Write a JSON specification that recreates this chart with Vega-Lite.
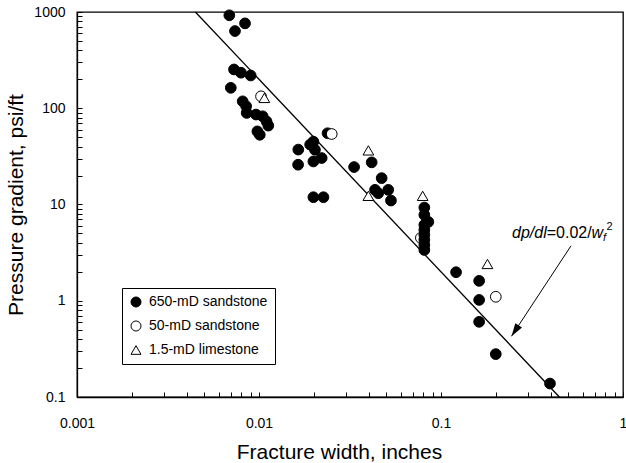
{
  "$schema": "https://vega.github.io/schema/vega-lite/v6.json",
  "width": 546,
  "height": 385,
  "autosize": {"type": "none"},
  "padding": {"left": 77, "top": 12, "right": 3, "bottom": 66},
  "background": "white",
  "config": {
    "font": "Liberation Sans",
    "view": {"stroke": "black", "strokeWidth": 1.3},
    "axis": {
      "domainColor": "black", "domainWidth": 1.3, "tickColor": "black", "tickWidth": 1,
      "labelColor": "black", "titleColor": "black", "grid": false,
      "labelFont": "Liberation Sans", "titleFont": "Liberation Sans",
      "titleFontWeight": "normal", "labelFontSize": 14, "titleFontSize": 21
    },
    "legend": {
      "orient": "none", "legendX": 45, "legendY": 276,
      "strokeColor": "black", "fillColor": "white", "padding": 7,
      "rowPadding": 10, "labelOffset": 6, "symbolSize": 100,
      "symbolStrokeWidth": 1,
      "labelFont": "Liberation Sans", "labelFontSize": 14, "labelColor": "black"
    }
  },
  "datasets": {
    "fit": [{"x": 0.00447, "y": 1000}, {"x": 0.447, "y": 0.1}],
    "pts": [
      {"x": 0.00687, "y": 924, "type": "650-mD sandstone"},
      {"x": 0.00838, "y": 762, "type": "650-mD sandstone"},
      {"x": 0.00738, "y": 634, "type": "650-mD sandstone"},
      {"x": 0.00729, "y": 253, "type": "650-mD sandstone"},
      {"x": 0.00796, "y": 234, "type": "650-mD sandstone"},
      {"x": 0.0090, "y": 219, "type": "650-mD sandstone"},
      {"x": 0.0070, "y": 163, "type": "650-mD sandstone"},
      {"x": 0.00813, "y": 118, "type": "650-mD sandstone"},
      {"x": 0.0085, "y": 105, "type": "650-mD sandstone"},
      {"x": 0.00856, "y": 89.5, "type": "650-mD sandstone"},
      {"x": 0.00963, "y": 86, "type": "650-mD sandstone"},
      {"x": 0.01047, "y": 82.6, "type": "650-mD sandstone"},
      {"x": 0.0110, "y": 73, "type": "650-mD sandstone"},
      {"x": 0.01125, "y": 66, "type": "650-mD sandstone"},
      {"x": 0.0098, "y": 57.5, "type": "650-mD sandstone"},
      {"x": 0.0101, "y": 53, "type": "650-mD sandstone"},
      {"x": 0.0238, "y": 55, "type": "650-mD sandstone"},
      {"x": 0.0199, "y": 45, "type": "650-mD sandstone"},
      {"x": 0.0191, "y": 41.9, "type": "650-mD sandstone"},
      {"x": 0.01644, "y": 37.2, "type": "650-mD sandstone"},
      {"x": 0.0203, "y": 37, "type": "650-mD sandstone"},
      {"x": 0.0221, "y": 30.4, "type": "650-mD sandstone"},
      {"x": 0.0199, "y": 28, "type": "650-mD sandstone"},
      {"x": 0.0164, "y": 25.9, "type": "650-mD sandstone"},
      {"x": 0.0199, "y": 11.9, "type": "650-mD sandstone"},
      {"x": 0.0226, "y": 11.9, "type": "650-mD sandstone"},
      {"x": 0.0416, "y": 27.4, "type": "650-mD sandstone"},
      {"x": 0.0333, "y": 24.5, "type": "650-mD sandstone"},
      {"x": 0.0472, "y": 18.8, "type": "650-mD sandstone"},
      {"x": 0.0434, "y": 14.2, "type": "650-mD sandstone"},
      {"x": 0.0452, "y": 13.1, "type": "650-mD sandstone"},
      {"x": 0.0513, "y": 14.2, "type": "650-mD sandstone"},
      {"x": 0.0531, "y": 11, "type": "650-mD sandstone"},
      {"x": 0.0775, "y": 4.5, "type": "50-mD sandstone"},
      {"x": 0.081, "y": 9.3, "type": "650-mD sandstone"},
      {"x": 0.081, "y": 7.8, "type": "650-mD sandstone"},
      {"x": 0.0852, "y": 6.6, "type": "650-mD sandstone"},
      {"x": 0.081, "y": 6.15, "type": "650-mD sandstone"},
      {"x": 0.081, "y": 5.45, "type": "650-mD sandstone"},
      {"x": 0.081, "y": 4.84, "type": "650-mD sandstone"},
      {"x": 0.081, "y": 4.3, "type": "650-mD sandstone"},
      {"x": 0.081, "y": 3.8, "type": "650-mD sandstone"},
      {"x": 0.081, "y": 3.37, "type": "650-mD sandstone"},
      {"x": 0.121, "y": 1.98, "type": "650-mD sandstone"},
      {"x": 0.162, "y": 1.61, "type": "650-mD sandstone"},
      {"x": 0.162, "y": 1.02, "type": "650-mD sandstone"},
      {"x": 0.162, "y": 0.604, "type": "650-mD sandstone"},
      {"x": 0.2, "y": 0.279, "type": "650-mD sandstone"},
      {"x": 0.397, "y": 0.138, "type": "650-mD sandstone"},
      {"x": 0.01026, "y": 133, "type": "50-mD sandstone"},
      {"x": 0.0251, "y": 54, "type": "50-mD sandstone"},
      {"x": 0.2, "y": 1.1, "type": "50-mD sandstone"},
      {"x": 0.0107, "y": 128, "type": "1.5-mD limestone"},
      {"x": 0.0399, "y": 36.5, "type": "1.5-mD limestone"},
      {"x": 0.0399, "y": 12.3, "type": "1.5-mD limestone"},
      {"x": 0.0793, "y": 12.3, "type": "1.5-mD limestone"},
      {"x": 0.18, "y": 2.41, "type": "1.5-mD limestone"}
    ],
    "arrow": [{"x": 0.518, "y": 3.72, "x2": 0.244, "y2": 0.428}],
    "head": [{"x": 0.244, "y": 0.428}],
    "label": [{"x": 0.2455, "y": 5}]
  },
  "encoding": {
    "x": {
      "field": "x", "type": "quantitative",
      "scale": {"type": "log", "domain": [0.001, 1], "nice": false},
      "axis": {
        "title": "Fracture width, inches",
        "values": [0.001,0.002,0.003,0.004,0.005,0.006,0.007,0.008,0.009,0.01,0.02,0.03,0.04,0.05,0.06,0.07,0.08,0.09,0.1,0.2,0.3,0.4,0.5,0.6,0.7,0.8,0.9,1],
        "labelExpr": "indexof([0.001,0.01,0.1,1], datum.value) >= 0 ? format(datum.value, '~g') : ''",
        "tickSize": -5, "labelPadding": 24, "labelFlush": false, "labelOverlap": false,
        "titlePadding": 11, "titleX": 262, "titleAlign": "center"
      }
    },
    "y": {
      "field": "y", "type": "quantitative",
      "scale": {"type": "log", "domain": [0.1, 1000], "nice": false},
      "axis": {
        "title": "Pressure gradient, psi/ft",
        "values": [0.1,0.2,0.3,0.4,0.5,0.6,0.7,0.8,0.9,1,2,3,4,5,6,7,8,9,10,20,30,40,50,60,70,80,90,100,200,300,400,500,600,700,800,900,1000],
        "labelExpr": "indexof([0.1,1,10,100,1000], datum.value) >= 0 ? format(datum.value, '~g') : ''",
        "tickSize": -5, "labelPadding": 17, "labelFlush": false, "labelOverlap": false,
        "titlePadding": 7
      }
    }
  },
  "layer": [
    {
      "data": {"name": "fit"},
      "mark": {"type": "line", "color": "black", "strokeWidth": 1.3}
    },
    {
      "data": {"name": "pts"},
      "mark": {"type": "point", "filled": true, "strokeWidth": 1, "size": 115, "opacity": 1},
      "encoding": {
        "shape": {
          "field": "type", "type": "nominal",
          "scale": {"domain": ["650-mD sandstone", "50-mD sandstone", "1.5-mD limestone"], "range": ["circle", "circle", "triangle-up"]},
          "legend": {"title": null}
        },
        "fill": {
          "field": "type", "type": "nominal",
          "scale": {"domain": ["650-mD sandstone", "50-mD sandstone", "1.5-mD limestone"], "range": ["black", "white", "white"]},
          "legend": {"title": null}
        },
        "stroke": {
          "field": "type", "type": "nominal",
          "scale": {"domain": ["650-mD sandstone", "50-mD sandstone", "1.5-mD limestone"], "range": ["black", "black", "black"]},
          "legend": {"title": null}
        }
      }
    },
    {
      "data": {"name": "arrow"},
      "mark": {"type": "rule", "color": "black", "strokeWidth": 1},
      "encoding": {"x2": {"field": "x2"}, "y2": {"field": "y2"}}
    },
    {
      "data": {"name": "head"},
      "mark": {"type": "point", "shape": "M0,0L0.4,1.3L-0.4,1.3Z", "size": 400, "angle": 213.4, "filled": true, "color": "black", "opacity": 1}
    },
    {
      "data": {"name": "label"},
      "mark": {"type": "text", "text": "dp/dl", "fontStyle": "italic", "fontSize": 16, "align": "left", "baseline": "middle", "color": "black"}
    },
    {
      "data": {"name": "label"},
      "mark": {"type": "text", "text": "=0.02/", "fontSize": 16, "align": "left", "baseline": "middle", "dx": 34.7, "color": "black"}
    },
    {
      "data": {"name": "label"},
      "mark": {"type": "text", "text": "w", "fontStyle": "italic", "fontSize": 16, "align": "left", "baseline": "middle", "dx": 79.5, "color": "black"}
    },
    {
      "data": {"name": "label"},
      "mark": {"type": "text", "text": "f", "fontStyle": "italic", "fontSize": 11, "align": "left", "baseline": "middle", "dx": 91.1, "dy": 5, "color": "black"}
    },
    {
      "data": {"name": "label"},
      "mark": {"type": "text", "text": "2", "fontSize": 11, "align": "left", "baseline": "middle", "dx": 94.5, "dy": -6, "color": "black"}
    }
  ],
  "resolve": {"legend": {"shape": "shared", "fill": "shared", "stroke": "shared"}}
}
